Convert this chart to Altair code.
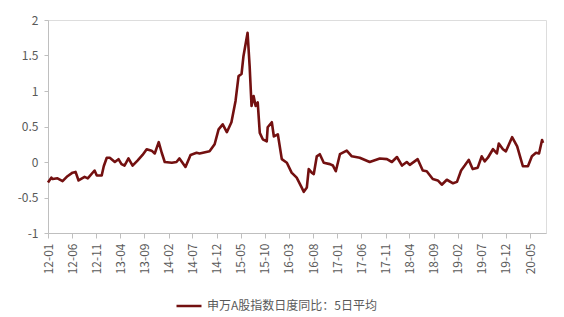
import altair as alt
import pandas as pd

dates = [
    "2012-01-01", "2012-01-22", "2012-01-30", "2012-03-01", "2012-04-02", "2012-05-03",
    "2012-06-04", "2012-06-23", "2012-07-12", "2012-08-19", "2012-09-08", "2012-10-21",
    "2012-11-04", "2012-12-05", "2012-12-18", "2013-01-06", "2013-01-25", "2013-02-26",
    "2013-03-21", "2013-04-09", "2013-04-28", "2013-05-23", "2013-06-18", "2013-07-19",
    "2013-08-20", "2013-09-15", "2013-10-16", "2013-11-05", "2013-11-30", "2013-12-19",
    "2014-01-07", "2014-02-21", "2014-03-22", "2014-04-10", "2014-05-18", "2014-06-19",
    "2014-07-27", "2014-08-15", "2014-10-17", "2014-11-18", "2014-12-13", "2015-01-08",
    "2015-02-03", "2015-03-04", "2015-03-30", "2015-04-18", "2015-05-07", "2015-05-19",
    "2015-06-14", "2015-06-27", "2015-07-09", "2015-07-22", "2015-08-04", "2015-08-17",
    "2015-08-30", "2015-09-18", "2015-10-13", "2015-10-19", "2015-11-14", "2015-11-27",
    "2015-12-22", "2016-01-16", "2016-02-17", "2016-03-18", "2016-04-19", "2016-05-21",
    "2016-06-03", "2016-06-22", "2016-07-04", "2016-07-23", "2016-08-05", "2016-08-24",
    "2016-09-12", "2016-10-07", "2016-11-15", "2016-12-04", "2016-12-22", "2017-01-17",
    "2017-03-01", "2017-04-02", "2017-05-22", "2017-07-24", "2017-09-26", "2017-11-10",
    "2017-12-11", "2018-01-12", "2018-02-13", "2018-03-15", "2018-04-03", "2018-05-23",
    "2018-06-24", "2018-07-19", "2018-08-26", "2018-09-27", "2018-10-22", "2018-11-23",
    "2019-01-01", "2019-01-26", "2019-02-21", "2019-03-16", "2019-04-10", "2019-05-05",
    "2019-06-06", "2019-07-01", "2019-07-20", "2019-08-09", "2019-09-10", "2019-10-05",
    "2019-10-17", "2019-11-12", "2019-12-01", "2020-01-09", "2020-02-10", "2020-02-28",
    "2020-03-17", "2020-04-18", "2020-05-13", "2020-06-08", "2020-06-27", "2020-07-16",
    "2020-07-22",
]
values = [
    -0.29, -0.22, -0.24, -0.23, -0.27, -0.20,
    -0.15, -0.14, -0.26, -0.21, -0.23, -0.12,
    -0.19, -0.19, -0.06, 0.06, 0.06, 0.00,
    0.04, -0.03, -0.05, 0.05, -0.05, 0.02,
    0.10, 0.18, 0.16, 0.12, 0.28, 0.13,
    0.00, -0.01, 0.00, 0.05, -0.07, 0.10,
    0.13, 0.12, 0.15, 0.25, 0.46, 0.53,
    0.42, 0.56, 0.86, 1.21, 1.24, 1.49,
    1.82, 1.35, 0.79, 0.93, 0.79, 0.84,
    0.41, 0.32, 0.29, 0.49, 0.56, 0.36,
    0.39, 0.04, -0.01, -0.15, -0.22, -0.36,
    -0.42, -0.36, -0.10, -0.15, -0.17, 0.08,
    0.11, -0.01, -0.03, -0.05, -0.13, 0.11,
    0.16, 0.08, 0.06, 0.00, 0.05, 0.04,
    0.00, 0.07, -0.05, 0.00, -0.04, 0.04,
    -0.12, -0.13, -0.24, -0.26, -0.32, -0.25,
    -0.30, -0.28, -0.12, -0.05, 0.03, -0.10,
    -0.08, 0.08, 0.01, 0.06, 0.18, 0.12,
    0.26, 0.18, 0.15, 0.35, 0.22, 0.08,
    -0.06, -0.06, 0.08, 0.13, 0.12, 0.31,
    0.27,
]
series_name = "申万A股指数日度同比：5日平均"
tick_years = [2012, 2012, 2012, 2013, 2013, 2014, 2014, 2014, 2015, 2015, 2016, 2016, 2017, 2017, 2017, 2018, 2018, 2019, 2019, 2019, 2020]
tick_months = [1, 6, 11, 4, 9, 2, 7, 12, 5, 10, 3, 8, 1, 6, 11, 4, 9, 2, 7, 12, 5]
y_ticks = [-1, -0.5, 0, 0.5, 1, 1.5, 2]

df = pd.DataFrame({"date": dates, "value": values, "series": series_name})

FONT = "Noto Sans CJK SC"
GREY = "#595959"
AXIS = "#BFBFBF"

x_vals = [alt.DateTime(year=y, month=m, date=1) for y, m in zip(tick_years, tick_months)]

chart = alt.Chart(df).mark_line(strokeWidth=2.6, interpolate="linear", strokeJoin="round").encode(
    x=alt.X("date:T",
            scale=alt.Scale(domain=[alt.DateTime(year=2012, month=1, date=1),
                                    alt.DateTime(year=2020, month=8, date=10)]),
            axis=alt.Axis(values=x_vals, title=None, grid=False,
                          labelExpr="timeFormat(datum.value, '%y-%m')",
                          labelAngle=270, labelAlign="right", labelBaseline="middle",
                          labelFont=FONT, labelFontSize=12, labelColor=GREY,
                          labelPadding=5, tickSize=5, tickColor=AXIS,
                          domainColor=AXIS, labelOverlap=False, labelFlush=False)),
    y=alt.Y("value:Q",
            scale=alt.Scale(domain=[-1, 2], nice=False, zero=False),
            axis=alt.Axis(values=y_ticks, title=None, grid=False,
                          labelExpr="'' + datum.value",
                          labelFont=FONT, labelFontSize=12, labelColor=GREY,
                          labelPadding=6, tickSize=4, tickColor=AXIS,
                          domainColor=AXIS)),
    color=alt.Color("series:N",
                    scale=alt.Scale(range=["#731010"]),
                    legend=alt.Legend(title=None, orient="none", legendX=127, legendY=272,
                                      symbolType="stroke", symbolSize=625,
                                      symbolStrokeWidth=2.5, labelLimit=400,
                                      labelFont=FONT, labelFontSize=12,
                                      labelColor=GREY)),
).properties(
    width=498, height=213,
    autosize=alt.AutoSizeParams(type="none"),
    padding={"left": 48, "top": 20, "right": 18, "bottom": 84},
).configure_view(stroke=None).configure(background="white")

chart.save("out.html", embed_options={"renderer": "svg", "actions": False})
